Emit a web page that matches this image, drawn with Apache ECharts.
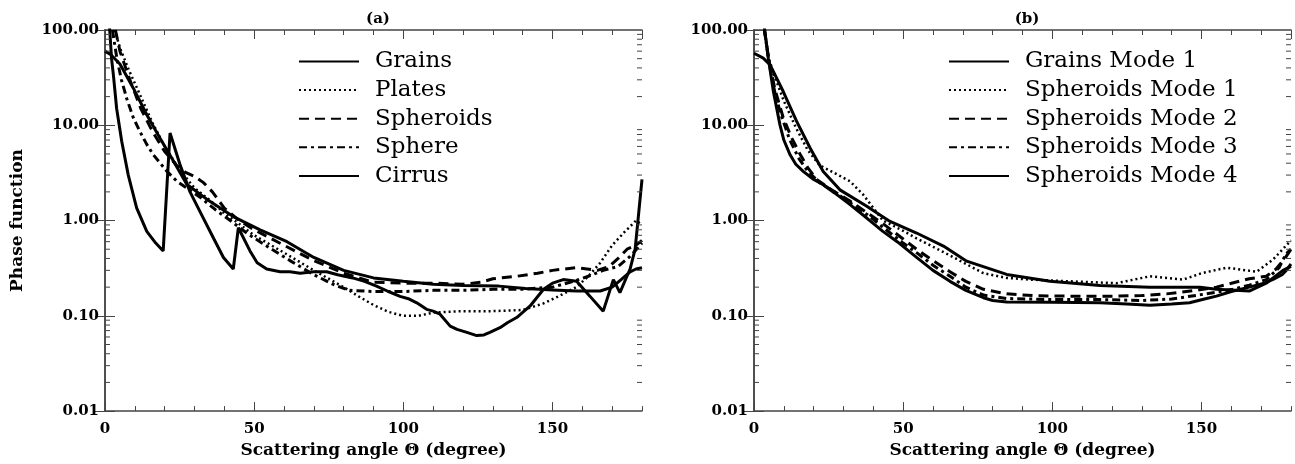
<!DOCTYPE html>
<html>
<head>
<meta charset="utf-8">
<script src="https://cdn.jsdelivr.net/npm/echarts@6/dist/echarts.min.js"></script>
<style>
  html, body { margin: 0; padding: 0; background: #fff; }
  #chart { width: 1295px; height: 464px; }
</style>
</head>
<body>
<div id="chart"></div>
<script>
"use strict";
// (a) panel: angles (deg) and phase function values
var grainsA_ang = [0, 2, 5, 9.5, 14, 18.4, 22.4, 27.4, 35, 43, 52, 61, 70, 80, 90, 100, 110, 120, 132, 141, 150, 158, 166, 170, 173, 176, 178, 180];
var grainsA_val = [60, 55, 44, 24.5, 12.9, 7.35, 4.5, 2.4, 1.6, 1.1, 0.8, 0.6, 0.41, 0.3, 0.25, 0.23, 0.215, 0.208, 0.205, 0.193, 0.187, 0.182, 0.182, 0.2, 0.24, 0.29, 0.31, 0.32];

var platesA_ang = [3.3, 5, 8, 12, 16, 20, 25, 30, 35, 40, 45, 50, 60, 70, 80, 85, 90, 95, 100, 105, 110, 120, 130, 140, 147, 152, 158, 162, 166, 170, 174, 178, 180];
var platesA_val = [100, 65, 38, 20, 10.5, 6, 3.4, 2.2, 1.65, 1.2, 0.92, 0.7, 0.46, 0.3, 0.2, 0.16, 0.13, 0.11, 0.1, 0.1, 0.108, 0.112, 0.112, 0.115, 0.135, 0.16, 0.2, 0.26, 0.36, 0.55, 0.75, 1.0, 0.9];

var spheroidsA_ang = [3.5, 5, 8, 12, 16, 20, 24, 27, 30, 33, 36, 40, 45, 50, 60, 70, 80, 90, 100, 110, 120, 126, 130, 138, 145, 150, 158, 165, 169, 172, 175, 178, 180];
var spheroidsA_val = [100, 60, 32, 15, 8.5, 5.3, 3.8, 3.2, 2.9, 2.5, 2.0, 1.35, 1.0, 0.8, 0.55, 0.38, 0.28, 0.225, 0.22, 0.22, 0.215, 0.225, 0.245, 0.26, 0.28, 0.3, 0.32, 0.3, 0.33, 0.4, 0.5, 0.55, 0.62];

var sphereA_ang = [2.5, 4, 5.5, 7.3, 9.5, 11.7, 14, 16.2, 20.7, 24, 27.4, 32, 37, 42, 48, 55, 62, 70, 77, 82, 90, 100, 110, 120, 130, 140, 150, 157, 162, 167, 172, 176, 180];
var sphereA_val = [100, 50, 30, 19, 12, 8.6, 6.3, 4.9, 3.3, 2.6, 2.2, 1.75, 1.3, 1.0, 0.72, 0.52, 0.38, 0.27, 0.21, 0.185, 0.18, 0.18, 0.185, 0.185, 0.19, 0.19, 0.2, 0.23, 0.26, 0.3, 0.33, 0.42, 0.58];

var cirrusA_ang = [1.5, 2.2, 2.8, 3.9, 5.6, 7.8, 10.6, 14, 17, 19.5, 21.8, 25.1, 28.5, 31.8, 36.3, 39.7, 43, 44.7, 48.6, 51, 54.2, 58.7, 62, 65.4, 70, 74.3, 78, 83, 87, 91, 95, 98.9, 102, 104.5, 107.8, 110, 112.3, 115.7, 118, 121.3, 124.6, 127, 129, 132.4, 135, 138, 142.5, 147, 150, 153.6, 158.1, 162.6, 167, 170.4, 172.6, 176, 177.7, 180];
var cirrusA_val = [110, 50, 34, 15, 6.8, 3.0, 1.36, 0.77, 0.58, 0.48, 8.3, 3.9, 2.0, 1.25, 0.66, 0.41, 0.31, 0.84, 0.48, 0.36, 0.31, 0.29, 0.29, 0.28, 0.29, 0.29, 0.27, 0.25, 0.23, 0.205, 0.18, 0.16, 0.15, 0.137, 0.117, 0.112, 0.104, 0.078, 0.072, 0.067, 0.062, 0.063, 0.067, 0.075, 0.085, 0.096, 0.127, 0.19, 0.22, 0.24, 0.23, 0.16, 0.112, 0.24, 0.175, 0.31, 0.5, 2.7];

// (b) panel
var grainsB_ang = [0, 3.1, 5.4, 9.8, 14.3, 18.8, 23.2, 28.8, 37.8, 45.6, 54.5, 63.5, 71.3, 84.7, 99.2, 116, 132.7, 149.5, 155, 166, 171.7, 177.3, 180];
var grainsB_val = [57, 50.6, 43, 22.6, 11, 5.77, 3.28, 2.1, 1.41, 0.98, 0.74, 0.54, 0.375, 0.272, 0.231, 0.208, 0.2, 0.2, 0.19, 0.182, 0.22, 0.3, 0.33];

var spheroidsB1_ang = [3.5, 5, 7, 10, 14, 18, 22, 26.6, 32.2, 36.6, 43.2, 50, 54.5, 65.7, 76.9, 84.7, 92.5, 104.8, 121.5, 132.7, 143.9, 150, 158.4, 168.5, 174, 180];
var spheroidsB1_val = [100, 50, 32, 18, 9.5, 5.5, 3.8, 3.2, 2.58, 1.87, 1.0, 0.78, 0.65, 0.43, 0.28, 0.25, 0.24, 0.231, 0.22, 0.26, 0.24, 0.28, 0.32, 0.29, 0.39, 0.62];

var spheroidsB2_ang = [3.5, 5, 7, 9.8, 12.5, 15.4, 18, 21, 26, 32.2, 38, 43.2, 50, 54.5, 60, 65.7, 71, 76.9, 84.7, 95, 116, 130, 138.3, 148, 155, 166, 171.7, 175, 178.4, 180];
var spheroidsB2_val = [100, 48, 24, 12, 7.5, 5.0, 3.6, 2.7, 2.1, 1.6, 1.2, 0.93, 0.64, 0.5, 0.38, 0.29, 0.23, 0.19, 0.17, 0.162, 0.16, 0.163, 0.17, 0.185, 0.2, 0.245, 0.26, 0.31, 0.42, 0.5];

var spheroidsB3_ang = [3.5, 5, 7, 9, 12, 15, 18, 22, 27, 32, 38, 43.2, 50, 54.5, 60, 65.7, 71, 76.9, 84.7, 100, 116, 130, 140, 151.6, 160.5, 166, 171.7, 176, 178.4, 180];
var spheroidsB3_val = [100, 46, 22, 13, 7, 4.5, 3.3, 2.5, 2.0, 1.55, 1.15, 0.85, 0.58, 0.46, 0.34, 0.26, 0.2, 0.165, 0.152, 0.148, 0.148, 0.145, 0.15, 0.17, 0.19, 0.21, 0.24, 0.32, 0.45, 0.5];

var spheroidsB4_ang = [3.4, 4.8, 6.5, 8.7, 10, 12.1, 14, 16.5, 20, 23.2, 27, 32.2, 38, 43.2, 48, 54.5, 60, 65.7, 71, 76.9, 80, 84.7, 100, 116, 125, 132.7, 140, 146, 151, 155, 160, 166, 171, 174, 177, 178.4, 180];
var spheroidsB4_val = [110, 50.6, 22.6, 10.1, 7, 4.9, 3.9, 3.28, 2.7, 2.38, 1.95, 1.47, 1.05, 0.77, 0.6, 0.41, 0.3, 0.23, 0.185, 0.155, 0.145, 0.14, 0.139, 0.137, 0.133, 0.129, 0.133, 0.137, 0.15, 0.161, 0.18, 0.2, 0.22, 0.241, 0.27, 0.3, 0.35];

var yTickLabels = ['0.01', '0.10', '1.00', '10.00', '100.00'];

function pairs(a, v) {
    return a.map(function (x, i) { return [x, v[i]]; });
}

// minor ticks of the log axis: 2..9 within each decade
var minorTicks = [];
[0.01, 0.1, 1, 10].forEach(function (d) {
    for (var k = 2; k <= 9; k++) minorTicks.push([0, +(k * d).toPrecision(3)]);
});

var FONT = 'DejaVu Serif';
var AXC = '#444';
var W = 3;

function xAxes(grid) {
    var base = {
        gridIndex: grid, type: 'value', min: 0, max: 180,
        splitLine: { show: false }
    };
    return [
        Object.assign({}, base, {
            position: 'bottom', interval: 50,
            axisLine: { show: true, lineStyle: { color: AXC, width: 1.5 } },
            axisTick: { inside: true, length: 9, lineStyle: { color: AXC } },
            axisLabel: {
                margin: 11, showMaxLabel: false, color: '#000',
                fontFamily: FONT, fontWeight: 'bold', fontSize: 15
            },
            name: 'Scattering angle \u0398 (degree)', nameLocation: 'middle', nameGap: 27,
            nameTextStyle: { fontFamily: FONT, fontWeight: 'bold', fontSize: 17, color: '#000' }
        }),
        Object.assign({}, base, {
            position: 'bottom', interval: 10,
            axisLine: { show: false },
            axisTick: { inside: true, length: 5, lineStyle: { color: AXC } },
            axisLabel: { show: false }
        }),
        Object.assign({}, base, {
            position: 'top', interval: 50,
            axisLine: { show: true, lineStyle: { color: AXC, width: 1.5 } },
            axisTick: { inside: true, length: 9, lineStyle: { color: AXC } },
            axisLabel: { show: false }
        }),
        Object.assign({}, base, {
            position: 'top', interval: 10,
            axisLine: { show: false },
            axisTick: { inside: true, length: 5, lineStyle: { color: AXC } },
            axisLabel: { show: false }
        })
    ];
}

function yAxes(grid, withName) {
    var base = {
        gridIndex: grid, type: 'log', logBase: 10, min: 0.01, max: 100,
        splitLine: { show: false },
        axisLine: { show: true, lineStyle: { color: AXC, width: 1.5 } },
        axisTick: { inside: true, length: 10, lineStyle: { color: AXC } }
    };
    var left = Object.assign({}, base, {
        position: 'left',
        axisLabel: {
            margin: 6, color: '#000', fontFamily: FONT, fontWeight: 'bold', fontSize: 15,
            formatter: function (v) {
                var i = Math.round(Math.log10(v)) + 2;
                return yTickLabels[i];
            }
        }
    });
    if (withName) {
        left.name = 'Phase function';
        left.nameLocation = 'middle';
        left.nameGap = 79;
        left.nameTextStyle = { fontFamily: FONT, fontWeight: 'bold', fontSize: 17, color: '#000' };
    }
    var right = Object.assign({}, base, { position: 'right', axisLabel: { show: false } });
    return [left, right];
}

function line(name, ang, val, xi, yi, type, width) {
    return {
        name: name, type: 'line', xAxisIndex: xi, yAxisIndex: yi,
        data: pairs(ang, val), symbol: 'none', smooth: false, clip: true,
        color: '#000',
        itemStyle: { color: '#000' },
        lineStyle: { color: '#000', width: width || W, type: type || 'solid', cap: 'butt' },
        z: 3
    };
}

function tickSeries(xi, yi) {
    return {
        type: 'custom', xAxisIndex: xi, yAxisIndex: yi, silent: true,
        data: minorTicks, encode: { x: 0, y: 1 }, clip: false, z: 5,
        renderItem: function (params, api) {
            var y = api.coord([0, api.value(1)])[1];
            var cs = params.coordSys;
            return {
                type: 'group', children: [
                    { type: 'line', shape: { x1: cs.x, y1: y, x2: cs.x + 5, y2: y }, style: { stroke: AXC, lineWidth: 1 } },
                    { type: 'line', shape: { x1: cs.x + cs.width - 5, y1: y, x2: cs.x + cs.width, y2: y }, style: { stroke: AXC, lineWidth: 1 } }
                ]
            };
        }
    };
}

var DOT = [2, 3], DASH = [10, 6], DASHDOT = [8, 4, 3, 4];

var legendBase = {
    orient: 'vertical', top: 50, padding: 0, itemWidth: 60, itemHeight: 14, itemGap: 5.6,
    itemStyle: { opacity: 0 },
    textStyle: { fontFamily: FONT, fontSize: 23, color: '#000', lineHeight: 22, padding: [0, 0, 0, 11] },
    inactiveColor: '#000'
};

var myChart = echarts.init(document.getElementById('chart'), null, { renderer: 'canvas' });
var option = {
    backgroundColor: '#fff',
    animation: false,
    title: [
        { text: '(a)', left: 373, top: 7, textAlign: 'center', textStyle: { fontFamily: FONT, fontWeight: 'bold', fontSize: 15, color: '#000' } },
        { text: '(b)', left: 1022, top: 7, textAlign: 'center', textStyle: { fontFamily: FONT, fontWeight: 'bold', fontSize: 15, color: '#000' } }
    ],
    grid: [
        { left: 105, right: 653, top: 30, bottom: 52 },
        { left: 754, right: 4, top: 30, bottom: 52 }
    ],
    legend: [
        Object.assign({}, legendBase, { left: 298, data: ['Grains', 'Plates', 'Spheroids', 'Sphere', 'Cirrus'] }),
        Object.assign({}, legendBase, { left: 948, data: ['Grains Mode 1', 'Spheroids Mode 1', 'Spheroids Mode 2', 'Spheroids Mode 3', 'Spheroids Mode 4'] })
    ],
    xAxis: xAxes(0).concat(xAxes(1)),
    yAxis: yAxes(0, true).concat(yAxes(1, false)),
    series: [
        line('Grains', grainsA_ang, grainsA_val, 0, 0),
        line('Plates', platesA_ang, platesA_val, 0, 0, DOT, 2.5),
        line('Spheroids', spheroidsA_ang, spheroidsA_val, 0, 0, DASH),
        line('Sphere', sphereA_ang, sphereA_val, 0, 0, DASHDOT),
        line('Cirrus', cirrusA_ang, cirrusA_val, 0, 0),
        line('Grains Mode 1', grainsB_ang, grainsB_val, 4, 2),
        line('Spheroids Mode 1', spheroidsB1_ang, spheroidsB1_val, 4, 2, DOT, 2.5),
        line('Spheroids Mode 2', spheroidsB2_ang, spheroidsB2_val, 4, 2, DASH),
        line('Spheroids Mode 3', spheroidsB3_ang, spheroidsB3_val, 4, 2, DASHDOT),
        line('Spheroids Mode 4', spheroidsB4_ang, spheroidsB4_val, 4, 2),
        tickSeries(0, 0),
        tickSeries(4, 2)
    ]
};
myChart.setOption(option);

window.onresize = function () {
    myChart.resize();
};
</script>
</body>
</html>
